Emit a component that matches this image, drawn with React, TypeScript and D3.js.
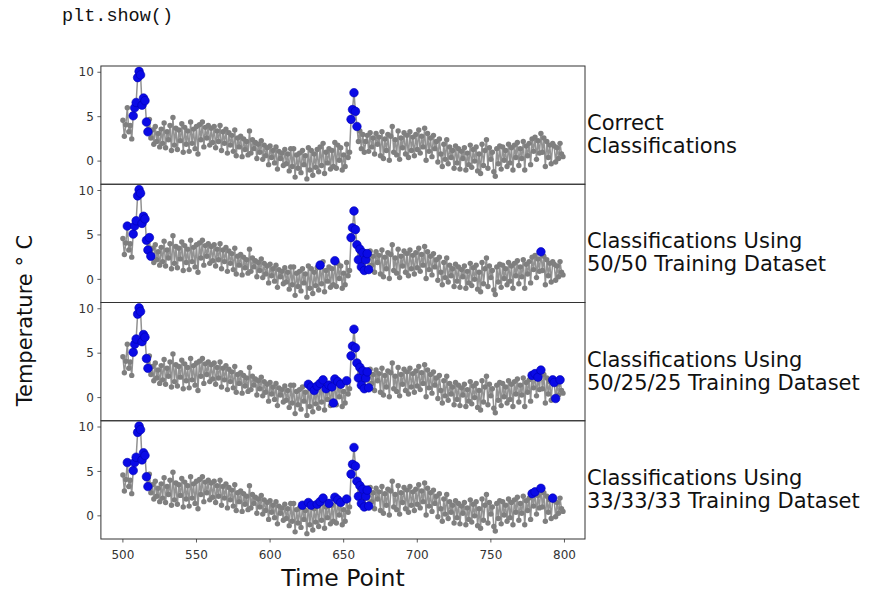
import React from "react";
import * as d3 from "d3";

// Temperature readings for time points 500..799 (one per step)
const startTime = 500;
const temps: number[] = [
  4.6, 2.8, 4.1, 6.0, 3.3, 4.0, 2.5, 5.1, 6.0, 6.6,
  9.4, 10.1, 9.7, 6.3, 7.1, 6.8, 4.4, 3.3, 4.7, 2.6,
  3.5, 1.9, 3.9, 2.2, 3.1, 1.6, 3.6, 2.0, 4.3, 1.5,
  3.3, 2.4, 4.0, 1.2, 4.9, 1.8, 3.7, 1.3, 3.5, 2.3,
  4.2, 1.0, 3.8, 1.9, 3.4, 1.1, 4.4, 2.0, 3.6, 1.4,
  3.9, 0.8, 4.1, 2.4, 4.4, 1.6, 3.8, 2.6, 4.0, 1.8,
  3.7, 2.1, 3.9, 1.5, 3.4, 2.2, 4.0, 1.2, 3.3, 2.0,
  3.6, 0.9, 3.2, 1.8, 2.9, 1.1, 3.5, 0.6, 2.6, 1.6,
  2.8, 0.5, 2.5, 1.3, 2.2, 0.7, 3.4, 0.9, 2.4, 1.4,
  2.1, 0.3, 1.9, 1.0, 2.3, 0.2, 1.8, 0.6, 1.5, -0.4,
  1.7, 0.4, 1.2, -0.2, 1.6, -0.9, 1.1, 0.3, 0.9, -0.5,
  1.3, -0.3, 0.8, -1.1, 1.4, -0.6, 1.4, -1.8, 0.7, -0.8,
  0.9, -1.3, 1.2, -0.4, 0.6, -2.0, 1.5, -1.0, 1.2, -1.6,
  0.8, -0.7, 1.3, -1.2, 1.6, -0.5, 2.0, -1.4, 1.0, -0.2,
  1.4, -0.9, 1.2, -0.6, 2.1, -0.8, 1.8, 0.1, 1.5, -1.0,
  0.7, -0.6, 1.9, 0.4, 1.0, 4.7, 5.8, 7.7, 5.6, 3.9,
  2.2, 3.4, 1.4, 3.0, 1.0, 2.2, 2.9, 1.1, 3.2, 1.6,
  2.6, 0.8, 3.1, 1.9, 2.7, 0.6, 3.3, 0.3, 2.5, 1.2,
  3.0, 0.1, 2.8, 3.9, 1.0, 2.4, 0.7, 3.4, 0.2, 2.6,
  1.5, 3.2, 0.8, 2.9, 0.4, 3.3, 1.2, 2.7, 0.6, 3.0,
  1.3, 3.5, 0.9, 2.8, 1.6, 3.7, 0.1, 3.1, 1.1, 2.6,
  0.5, 2.9, 1.4, 2.2, -0.1, 2.5, 0.8, -0.6, 1.9, 0.2,
  2.4, -0.3, 1.6, 0.4, 1.2, -0.8, 1.7, -0.2, 1.4, -0.9,
  1.1, 0.3, 1.5, -1.0, 0.9, -0.4, 1.8, -0.7, 1.3, 0.0,
  1.6, -1.1, 0.8, -1.4, 1.9, -0.5, 1.2, 2.4, -0.8, 1.5,
  0.2, 1.0, -1.2, -1.7, 1.4, -0.3, 1.7, -0.9, 1.6, 0.1,
  1.2, -0.6, 1.9, -0.2, 1.5, -1.0, 1.8, 0.4, 2.1, -0.5,
  1.4, 0.3, 2.2, -1.0, 1.7, 0.6, 2.0, -0.4, 2.5, 1.1,
  2.7, 0.2, 2.3, 0.9, 3.1, 1.0, 2.6, -0.6, 2.2, 0.4,
  1.8, -0.3, 2.0, 1.7, -0.1, 1.5, 0.3, 2.0, 0.8, 0.5,
];

// Time points flagged as anomalous in each panel
const flaggedCorrect: number[] = [
  507, 508, 509, 510, 511, 512, 513, 514, 515, 516, 517,
  655, 656, 657, 658, 659,
];
const flagged5050: number[] = [
  503, 507, 508, 509, 510, 511, 512, 513, 514, 515, 516, 517, 518, 519,
  634, 644,
  655, 656, 657, 658, 659, 660, 661, 662, 663, 664, 665, 666, 667,
  784,
];
const flagged502525: number[] = [
  507, 508, 509, 510, 511, 512, 513, 514, 515, 516, 517,
  626, 628, 630, 632, 634, 636, 638, 640, 642, 643, 644, 646, 648, 652,
  655, 656, 657, 658, 659, 660, 661, 662, 663, 664, 665, 666, 667,
  778, 780, 782, 784, 792, 793, 794, 797,
];
const flagged333333: number[] = [
  503, 507, 508, 509, 510, 511, 512, 513, 514, 515, 516, 517,
  622, 626, 628, 632, 634, 636, 640, 644, 646, 648, 652,
  655, 656, 657, 658, 659, 660, 661, 662, 663, 664, 665, 666, 667,
  778, 780, 784, 792,
];

const panelLabels: string[][] = [
  ["Correct", "Classifications"],
  ["Classifications Using", "50/50 Training Dataset"],
  ["Classifications Using", "50/25/25 Training Dataset"],
  ["Classifications Using", "33/33/33 Training Dataset"],
];
const panelFlags = [flaggedCorrect, flagged5050, flagged502525, flagged333333];

const xTicks = [500, 550, 600, 650, 700, 750, 800];
const yTicks = [0, 5, 10];

const W = 871;
const H = 592;
const left = 100.9;
const right = 585;
const top = 66;
const bottom = 539;
const nPanels = 4;
const panelH = (bottom - top) / nPanels;

const FONT = "'DejaVu Sans', sans-serif";

export default function App() {
  const points = temps.map((v, i) => ({ t: startTime + i, v }));
  const tMin = d3.min(points, (d) => d.t)!;
  const tMax = d3.max(points, (d) => d.t)!;
  const vMin = d3.min(temps)!;
  const vMax = d3.max(temps)!;
  const padT = (tMax - tMin) * 0.05;
  const padV = (vMax - vMin) * 0.05;

  const x = d3.scaleLinear().domain([tMin - padT, tMax + padT]).range([left, right]);

  return (
    <svg
      width={W}
      height={H}
      style={{ position: "absolute", left: 0, top: 0, background: "#fff" }}
      fontFamily={FONT}
    >
      <rect x={0} y={0} width={W} height={H} fill="#fff" />
      <text x={62} y={21} fontFamily="'Liberation Mono', 'DejaVu Sans Mono', monospace" fontSize={18.5} fill="#111">
        plt.show()
      </text>

      {panelFlags.map((flags, p) => {
        const y0 = top + p * panelH;
        const y = d3
          .scaleLinear()
          .domain([vMin - padV, vMax + padV])
          .range([y0 + panelH, y0]);
        const line = d3
          .line<{ t: number; v: number }>()
          .x((d) => x(d.t))
          .y((d) => y(d.v));
        const flagSet = new Set(flags);
        const flaggedPts = points.filter((d) => flagSet.has(d.t));
        return (
          <g key={p}>
            <path d={line(points)!} fill="none" stroke="#929292" strokeWidth={1.5} />
            {points.map((d) => (
              <circle key={d.t} cx={x(d.t)} cy={y(d.v)} r={2.7} fill="#7f7f7f" />
            ))}
            {flaggedPts.map((d) => (
              <circle key={"b" + d.t} cx={x(d.t)} cy={y(d.v)} r={4.3} fill="#0a0ae6" stroke="#0000b0" strokeWidth={0.6} />
            ))}
            {yTicks.map((tk) => (
              <g key={tk}>
                <line x1={left - 3.5} x2={left} y1={y(tk)} y2={y(tk)} stroke="#333" strokeWidth={0.8} />
                <text x={left - 7} y={y(tk)} dy="0.35em" textAnchor="end" fontSize={12} fill="#333">
                  {tk}
                </text>
              </g>
            ))}
            <rect x={left} y={y0} width={right - left} height={panelH} fill="none" stroke="#333" strokeWidth={1} />
            {panelLabels[p].map((s, k) => (
              <text key={k} x={587} y={y0 + 64 + k * 23} fontSize={21} fill="#111">
                {s}
              </text>
            ))}
          </g>
        );
      })}

      {xTicks.map((tk) => (
        <g key={tk}>
          <line x1={x(tk)} x2={x(tk)} y1={bottom} y2={bottom + 3.5} stroke="#333" strokeWidth={0.8} />
          <text x={x(tk)} y={bottom + 20} textAnchor="middle" fontSize={12} fill="#333">
            {tk}
          </text>
        </g>
      ))}

      <text x={(left + right) / 2} y={586} textAnchor="middle" fontSize={23.5} fill="#111">
        Time Point
      </text>
      <text
        transform={`translate(32, ${(top + bottom) / 2 + 18}) rotate(-90)`}
        textAnchor="middle"
        fontSize={21}
        fill="#111"
      >
        Temperature ° C
      </text>
    </svg>
  );
}
